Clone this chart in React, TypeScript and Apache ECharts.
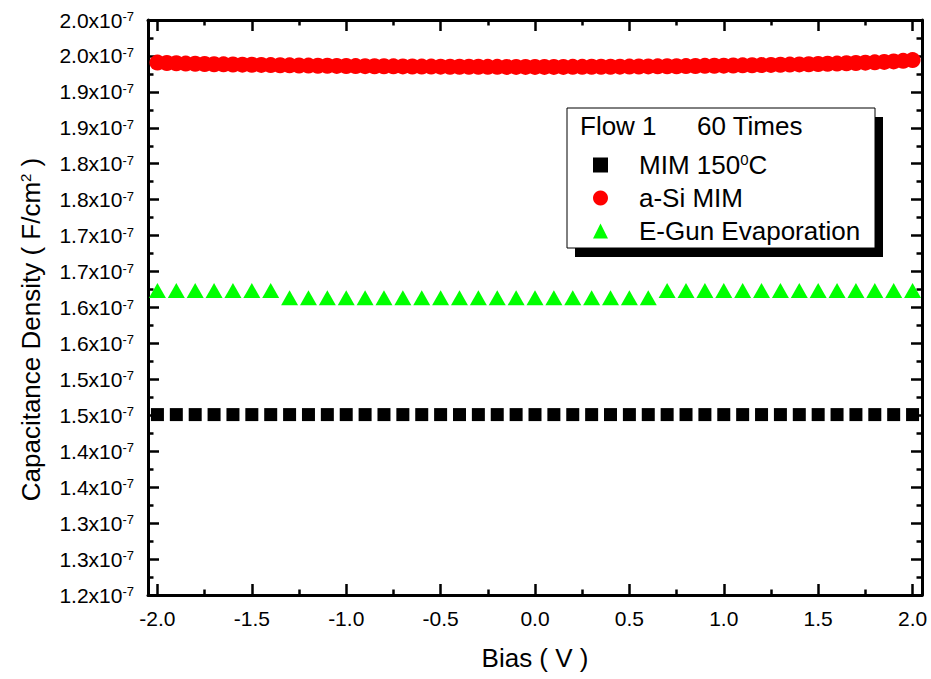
import React, { useEffect, useRef } from "react";
import * as echarts from "echarts";

// Bias (V) sampled every 0.1 V
const biasCoarse = [
  -2.0, -1.9, -1.8, -1.7, -1.6, -1.5, -1.4, -1.3, -1.2, -1.1, -1.0,
  -0.9, -0.8, -0.7, -0.6, -0.5, -0.4, -0.3, -0.2, -0.1, 0.0,
  0.1, 0.2, 0.3, 0.4, 0.5, 0.6, 0.7, 0.8, 0.9, 1.0,
  1.1, 1.2, 1.3, 1.4, 1.5, 1.6, 1.7, 1.8, 1.9, 2.0,
];
// Bias (V) sampled every 0.05 V
const biasFine = [
  -2.0, -1.95, -1.9, -1.85, -1.8, -1.75, -1.7, -1.65, -1.6, -1.55, -1.5,
  -1.45, -1.4, -1.35, -1.3, -1.25, -1.2, -1.15, -1.1, -1.05, -1.0,
  -0.95, -0.9, -0.85, -0.8, -0.75, -0.7, -0.65, -0.6, -0.55, -0.5,
  -0.45, -0.4, -0.35, -0.3, -0.25, -0.2, -0.15, -0.1, -0.05, 0.0,
  0.05, 0.1, 0.15, 0.2, 0.25, 0.3, 0.35, 0.4, 0.45, 0.5,
  0.55, 0.6, 0.65, 0.7, 0.75, 0.8, 0.85, 0.9, 0.95, 1.0,
  1.05, 1.1, 1.15, 1.2, 1.25, 1.3, 1.35, 1.4, 1.45, 1.5,
  1.55, 1.6, 1.65, 1.7, 1.75, 1.8, 1.85, 1.9, 1.95, 2.0,
];

// Capacitance density, in units of 1e-7 F/cm^2
const mim150C = [
  1.451, 1.451, 1.451, 1.451, 1.451, 1.451, 1.451, 1.451, 1.451, 1.451, 1.451,
  1.451, 1.451, 1.451, 1.451, 1.451, 1.451, 1.451, 1.451, 1.451, 1.451,
  1.451, 1.451, 1.451, 1.451, 1.451, 1.451, 1.451, 1.451, 1.451, 1.451,
  1.451, 1.451, 1.451, 1.451, 1.451, 1.451, 1.451, 1.451, 1.451, 1.451,
];
const aSiMIM = [
  1.9407, 1.9402, 1.9398, 1.9394, 1.9391, 1.9388, 1.9385, 1.9383, 1.9381, 1.9379, 1.9377,
  1.9375, 1.9373, 1.9371, 1.9369, 1.9367, 1.9366, 1.9364, 1.9363, 1.9361, 1.936,
  1.9359, 1.9358, 1.9357, 1.9356, 1.9355, 1.9354, 1.9353, 1.9352, 1.9352, 1.9351,
  1.935, 1.935, 1.9349, 1.9349, 1.9348, 1.9348, 1.9347, 1.9347, 1.9347, 1.9347,
  1.9347, 1.9347, 1.9347, 1.9348, 1.9348, 1.9349, 1.9349, 1.935, 1.9351, 1.9352,
  1.9353, 1.9354, 1.9355, 1.9356, 1.9357, 1.9359, 1.936, 1.9362, 1.9363, 1.9365,
  1.9367, 1.9369, 1.9371, 1.9373, 1.9375, 1.9377, 1.938, 1.9382, 1.9385, 1.9388,
  1.9391, 1.9394, 1.9398, 1.9402, 1.9406, 1.9411, 1.9417, 1.9424, 1.9432, 1.9442,
];
const eGunEvaporation = [
  1.6236, 1.6236, 1.6236, 1.6236, 1.6236, 1.6236, 1.6236,
  1.6135, 1.6135, 1.6135, 1.6135, 1.6135, 1.6135, 1.6135, 1.6135, 1.6135, 1.6135,
  1.6135, 1.6135, 1.6135, 1.6135, 1.6135, 1.6135, 1.6135, 1.6135, 1.6135, 1.6135,
  1.6236, 1.6236, 1.6236, 1.6236, 1.6236, 1.6236, 1.6236,
  1.6236, 1.6236, 1.6236, 1.6236, 1.6236, 1.6236, 1.6236,
];

const seriesNames = ["MIM 150C", "a-Si MIM", "E-Gun Evaporation"];
const xMajorTicks = [-2.0, -1.5, -1.0, -0.5, 0.0, 0.5, 1.0, 1.5, 2.0];
const xMinorTicks = [-1.75, -1.25, -0.75, -0.25, 0.25, 0.75, 1.25, 1.75];
const xTickLabels = ["-2.0", "-1.5", "-1.0", "-0.5", "0.0", "0.5", "1.0", "1.5", "2.0"];
const yTickLabels = [
  "1.2", "1.3", "1.3", "1.4", "1.4", "1.5", "1.5", "1.6", "1.6",
  "1.7", "1.7", "1.8", "1.8", "1.9", "1.9", "2.0", "2.0",
];

const FONT = "'Liberation Sans', Arial, Helvetica, sans-serif";

export default function App() {
  const ref = useRef<HTMLDivElement>(null);

  useEffect(() => {
    if (!ref.current) return;
    const chart = echarts.init(ref.current, undefined, { renderer: "svg" });

    const axisLineStyle = { color: "#000", width: 3 };
    const majorTick = { show: true, inside: true, length: 11, lineStyle: { color: "#000", width: 2.5 } };
    const minorTickStyle = { show: true, inside: true, length: 5.5, lineStyle: { color: "#000", width: 2.5 } };

    const xBase = { type: "value", min: -2.05, max: 2.05, splitLine: { show: false } };

    const zip = (xs: number[], ys: number[]) => xs.map((x, i) => [x, ys[i]]);

    chart.setOption({
      animation: false,
      backgroundColor: "#fff",
      textStyle: { fontFamily: FONT },
      grid: { left: 148, right: 9, top: 20, bottom: 84, containLabel: false },
      xAxis: [
        {
          ...xBase,
          position: "bottom",
          axisLine: { show: true, onZero: false, lineStyle: axisLineStyle },
          axisTick: { ...majorTick, customValues: xMajorTicks },
          axisLabel: {
            show: true,
            customValues: xMajorTicks,
            margin: 13,
            color: "#000",
            fontSize: 21,
            fontFamily: FONT,
            formatter: (v: number) => {
              const i = xMajorTicks.findIndex((t) => Math.abs(t - v) < 1e-6);
              return i >= 0 ? xTickLabels[i] : "";
            },
          },
          name: "Bias ( V )",
          nameLocation: "middle",
          nameGap: 50,
          nameTextStyle: { fontSize: 26, color: "#000", fontFamily: FONT },
        },
        {
          ...xBase,
          position: "bottom",
          axisLine: { show: false, onZero: false },
          axisTick: { ...minorTickStyle, customValues: xMinorTicks },
          axisLabel: { show: false },
        },
        {
          ...xBase,
          position: "top",
          axisLine: { show: true, onZero: false, lineStyle: axisLineStyle },
          axisTick: { ...majorTick, customValues: xMajorTicks },
          axisLabel: { show: false },
        },
        {
          ...xBase,
          position: "top",
          axisLine: { show: false, onZero: false },
          axisTick: { ...minorTickStyle, customValues: xMinorTicks },
          axisLabel: { show: false },
        },
      ],
      yAxis: [
        {
          type: "value",
          position: "left",
          min: 1.2,
          max: 2.0,
          interval: 0.05,
          splitLine: { show: false },
          axisLine: { show: true, onZero: false, lineStyle: axisLineStyle },
          axisTick: majorTick,
          minorTick: { ...minorTickStyle, splitNumber: 2 },
          minorSplitLine: { show: false },
          axisLabel: {
            margin: 14,
            color: "#000",
            formatter: (v: number) => {
              const i = Math.round((v - 1.2) / 0.05);
              return `{m|${yTickLabels[i]}x10}{s|-7}`;
            },
            rich: {
              m: { fontSize: 21, lineHeight: 24, fontFamily: FONT, color: "#000" },
              s: { fontSize: 13, lineHeight: 13, verticalAlign: "top", padding: [2, 0, 0, 0], fontFamily: FONT, color: "#000" },
            },
          },
          name: "Capacitance Density ( F/cm{s|2} )",
          nameLocation: "middle",
          nameGap: 104,
          nameTextStyle: {
            fontSize: 26,
            color: "#000",
            fontFamily: FONT,
            padding: [0, 44, 0, 0],
            rich: {
              s: { fontSize: 15, lineHeight: 15, verticalAlign: "top", fontFamily: FONT, color: "#000" },
            },
          },
        },
        {
          type: "value",
          position: "right",
          min: 1.2,
          max: 2.0,
          interval: 0.05,
          splitLine: { show: false },
          axisLine: { show: true, onZero: false, lineStyle: axisLineStyle },
          axisTick: majorTick,
          minorTick: { ...minorTickStyle, splitNumber: 2 },
          minorSplitLine: { show: false },
          axisLabel: { show: false },
        },
      ],
      legend: {
        orient: "vertical",
        left: 593,
        top: 152,
        z: 20,
        zlevel: 0,
        itemWidth: 15,
        itemHeight: 15,
        itemGap: 7,
        padding: 0,
        data: [
          { name: seriesNames[0], icon: "rect" },
          { name: seriesNames[1], icon: "circle" },
          { name: seriesNames[2], icon: "triangle" },
        ],
        formatter: (name: string) => (name === "MIM 150C" ? "MIM 150{s|0}C" : name),
        textStyle: {
          fontSize: 26,
          lineHeight: 26,
          color: "#000",
          fontFamily: FONT,
          padding: [0, 0, 0, 26],
          rich: {
            s: { fontSize: 15, lineHeight: 15, verticalAlign: "top", fontFamily: FONT, color: "#000" },
          },
        },
      },
      graphic: [
        { type: "rect", shape: { x: 575, y: 117, width: 308, height: 140 }, style: { fill: "#000" }, z: 5 },
        { type: "rect", shape: { x: 567, y: 108, width: 308, height: 140 }, style: { fill: "#fff", stroke: "#000", lineWidth: 1 }, z: 6 },
        { type: "text", x: 580, y: 126, style: { text: "Flow 1", fontSize: 26, fontFamily: FONT, fill: "#000", verticalAlign: "middle" }, z: 7 },
        { type: "text", x: 697, y: 126, style: { text: "60 Times", fontSize: 26, fontFamily: FONT, fill: "#000", verticalAlign: "middle" }, z: 7 },
      ],
      series: [
        {
          name: seriesNames[0],
          type: "scatter",
          symbol: "rect",
          symbolSize: 13,
          itemStyle: { color: "#000", opacity: 1 },
          data: zip(biasCoarse, mim150C),
          z: 3,
        },
        {
          name: seriesNames[1],
          type: "scatter",
          symbol: "circle",
          symbolSize: 16,
          itemStyle: { color: "#ff0000", opacity: 1 },
          data: zip(biasFine, aSiMIM),
          z: 3,
        },
        {
          name: seriesNames[2],
          type: "scatter",
          symbol: "triangle",
          symbolSize: [17, 15],
          itemStyle: { color: "#00ff00", opacity: 1 },
          data: zip(biasCoarse, eGunEvaporation),
          z: 3,
        },
      ],
    } as any);

    return () => chart.dispose();
  }, []);

  return (
    <div
      ref={ref}
      style={{ position: "absolute", left: 0, top: 0, width: 931, height: 679, background: "#fff" }}
    />
  );
}
